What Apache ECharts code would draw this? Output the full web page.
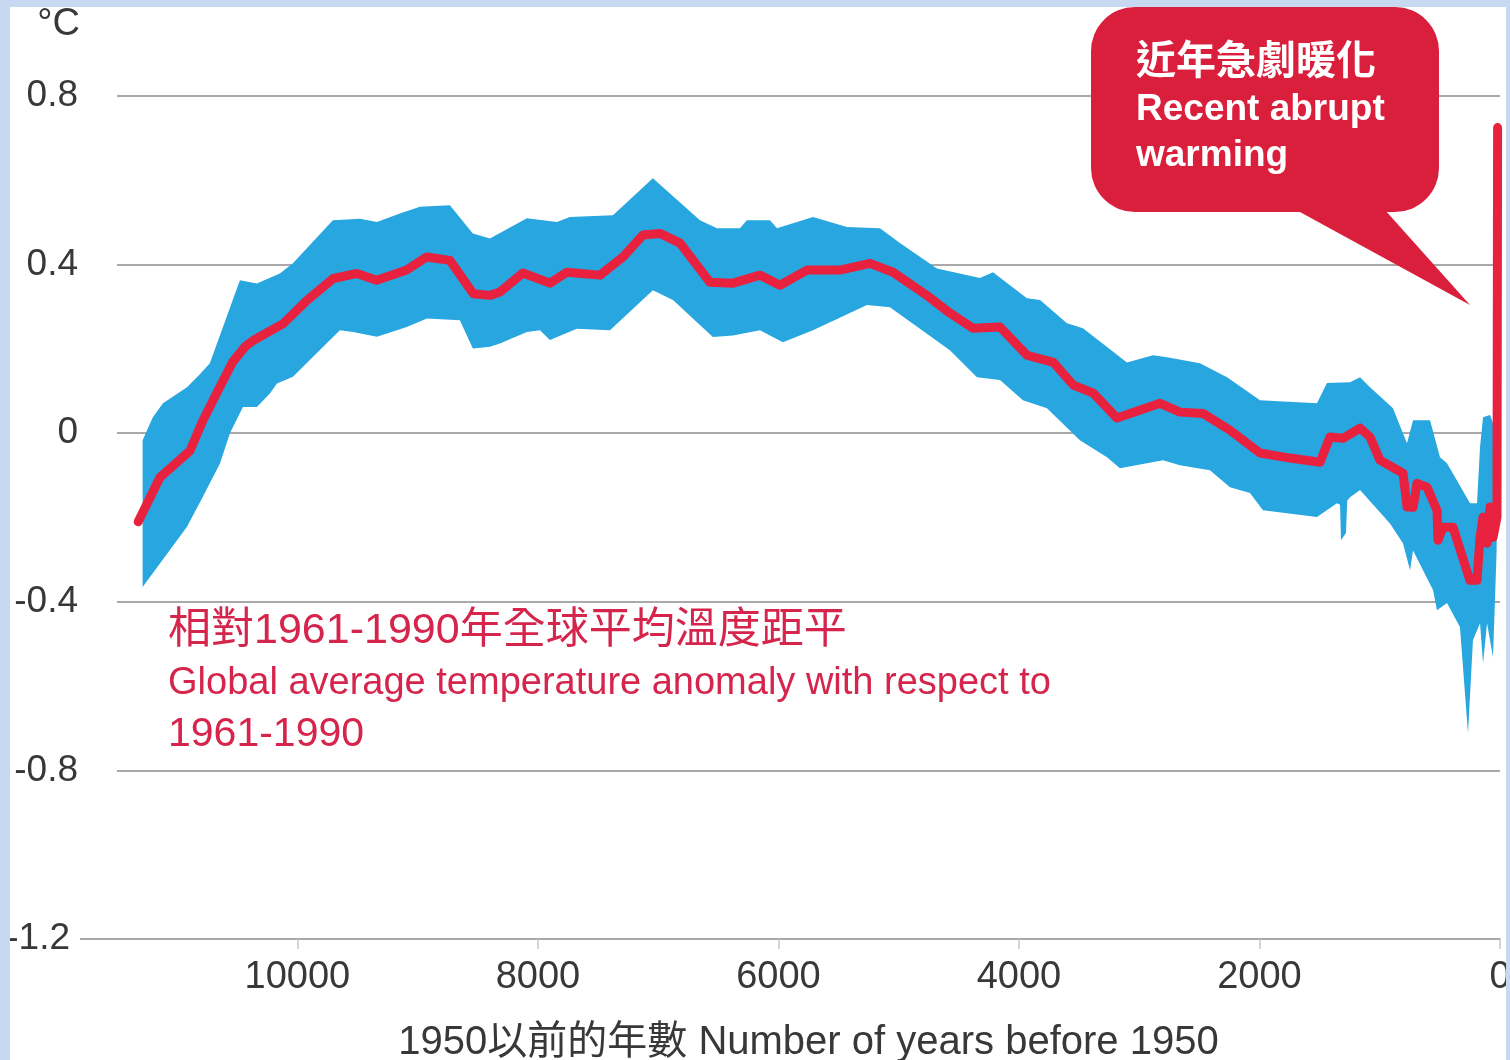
<!DOCTYPE html>
<html>
<head>
<meta charset="utf-8">
<script src="https://cdn.jsdelivr.net/npm/echarts@6/dist/echarts.min.js"></script>
<style>
  html, body { margin: 0; padding: 0; background: #ffffff; overflow: hidden; }
  #chart { position: absolute; left: 0; top: 0; width: 1510px; height: 1060px; }
  #frame {
    position: absolute; left: 0; top: 0; width: 1510px; height: 1060px;
    box-sizing: border-box; border-style: solid; border-color: #c6d9f1;
    border-width: 7px 4px 0 10px; pointer-events: none;
  }
</style>
</head>
<body>
<div id="chart"></div>
<div id="frame"></div>
<script>
// Axis ticks
const yearTicks = [0, 2000, 4000, 6000, 8000, 10000];
const tempMin = -1.2;
const tempMax = 0.8;
const tempStep = 0.4;

// Reconstructed global mean temperature anomaly (°C vs 1961-1990), years before 1950
const meanYears = [11324, 11143, 10894, 10786, 10644, 10536, 10436, 10368, 10118, 9917,
  9702, 9505, 9341, 9092, 8926, 8732, 8538, 8399, 8316, 8125,
  7900, 7760, 7484, 7293, 7127, 6985, 6819, 6570, 6378, 6154,
  5988, 5763, 5489, 5239, 5047, 4766, 4574, 4382, 4158, 3934,
  3714, 3548, 3382, 3185, 2827, 2661, 2470, 2245, 1996, 1746,
  1497, 1414, 1306, 1164, 1081, 998, 806, 773, 723, 690,
  607, 524, 515, 474, 391, 250, 191, 166, 141, 108,
  83, 58, 25, 20];
const meanTemp = [-0.21, -0.105, -0.042, 0.03, 0.11, 0.17, 0.205, 0.22, 0.26, 0.316,
  0.367, 0.379, 0.363, 0.387, 0.418, 0.41, 0.331, 0.327, 0.335, 0.38,
  0.356, 0.382, 0.375, 0.418, 0.47, 0.474, 0.451, 0.358, 0.356, 0.375,
  0.351, 0.387, 0.387, 0.403, 0.382, 0.327, 0.285, 0.249, 0.252, 0.185,
  0.168, 0.114, 0.095, 0.036, 0.071, 0.05, 0.047, 0.007, -0.047, -0.059,
  -0.069, -0.009, -0.012, 0.012, -0.009, -0.064, -0.095, -0.175, -0.176, -0.119,
  -0.128, -0.183, -0.254, -0.223, -0.223, -0.349, -0.349, -0.247, -0.199, -0.261,
  -0.175, -0.247, -0.199, 0.725];

// Uncertainty envelope, upper edge
const upperYears = [11287, 11202, 11118, 10918, 10811, 10728, 10478, 10337, 10146, 10037,
  9705, 9480, 9339, 9148, 8981, 8732, 8541, 8399, 8092, 7842,
  7734, 7376, 7044, 6653, 6511, 6320, 6262, 6071, 6012, 5713,
  5430, 5156, 4990, 4682, 4324, 4216, 3934, 3825, 3601, 3468,
  3102, 2886, 2769, 2495, 2270, 2079, 1996, 1522, 1439, 1247,
  1164, 1081, 890, 807, 773, 723, 582, 499, 441, 249,
  191, 166, 141, 83, 28];
const upperTemp = [-0.017, 0.038, 0.071, 0.109, 0.14, 0.166, 0.363, 0.355, 0.379, 0.403,
  0.505, 0.509, 0.501, 0.521, 0.537, 0.541, 0.474, 0.462, 0.51, 0.501,
  0.513, 0.517, 0.605, 0.505, 0.486, 0.486, 0.505, 0.505, 0.486, 0.513,
  0.489, 0.486, 0.451, 0.391, 0.368, 0.382, 0.32, 0.316, 0.261, 0.249,
  0.168, 0.185, 0.18, 0.166, 0.133, 0.095, 0.078, 0.071, 0.119, 0.121,
  0.133, 0.109, 0.059, 0.0, -0.024, 0.031, 0.031, -0.057, -0.071, -0.166,
  -0.166, -0.033, 0.038, 0.043, 0.0];

// Uncertainty envelope, lower edge
const lowerYears = [11287, 10918, 10786, 10644, 10561, 10453, 10337, 10229, 10170, 10037,
  9647, 9536, 9339, 9090, 8923, 8649, 8541, 8399, 8316, 8092,
  7983, 7900, 7676, 7401, 7044, 6877, 6545, 6378, 6154, 5963,
  5713, 5264, 5073, 4574, 4349, 4158, 3967, 3767, 3493, 3268,
  3160, 2803, 2661, 2412, 2245, 2079, 1971, 1522, 1356, 1330,
  1322, 1281, 1270, 1247, 1164, 915, 807, 748, 723, 557,
  524, 441, 333, 266, 225, 166, 141, 108, 58, 28];
const lowerTemp = [-0.365, -0.222, -0.151, -0.072, 0.0, 0.062, 0.062, 0.094, 0.118, 0.134,
  0.244, 0.24, 0.229, 0.252, 0.272, 0.268, 0.201, 0.205, 0.213, 0.24,
  0.244, 0.221, 0.248, 0.244, 0.339, 0.316, 0.228, 0.232, 0.244, 0.216,
  0.244, 0.304, 0.299, 0.197, 0.133, 0.126, 0.078, 0.059, -0.017, -0.057,
  -0.083, -0.064, -0.076, -0.088, -0.128, -0.142, -0.183, -0.199, -0.166, -0.17,
  -0.254, -0.237, -0.16, -0.152, -0.135, -0.214, -0.261, -0.325, -0.278, -0.372,
  -0.42, -0.403, -0.46, -0.712, -0.491, -0.451, -0.546, -0.451, -0.531, -0.278];

const BAND = '#28a6df';
const LINE = '#e8213f';
const CALLOUT = '#da1f3d';
const NOTE = '#d6254c';
const GRID = '#a9a9a9';
const TEXT = '#383838';
const FONT = '"Liberation Sans", "Noto Sans CJK TC", sans-serif';

const chart = echarts.init(document.getElementById('chart'), null, { renderer: 'canvas' });

chart.setOption({
  backgroundColor: '#ffffff',
  animation: false,
  grid: { left: 117, top: 96, width: 1383, height: 843, outerBoundsMode: 'none', containLabel: false },
  xAxis: {
    type: 'value',
    inverse: true,
    min: 0,
    max: 11500,
    interval: 2000,
    name: '1950以前的年數 Number of years before 1950',
    nameLocation: 'middle',
    nameGap: 84,
    nameTextStyle: { fontSize: 40, color: TEXT, fontFamily: FONT, verticalAlign: 'top' },
    axisLine: { show: true, onZero: false, lineStyle: { color: GRID, width: 2 } },
    axisTick: { show: true, length: 10, customValues: yearTicks, lineStyle: { color: '#c8c8c8', width: 1.5 } },
    axisLabel: {
      customValues: yearTicks, fontSize: 38, color: TEXT, fontFamily: FONT, margin: 20,
      formatter: v => String(v)
    },
    splitLine: { show: false }
  },
  yAxis: {
    type: 'value',
    min: tempMin,
    max: tempMax,
    interval: tempStep,
    name: '°C',
    nameLocation: 'end',
    nameGap: 52,
    nameTextStyle: { fontSize: 38, color: TEXT, fontFamily: FONT, align: 'right', padding: [0, 37, 0, 0] },
    axisLine: { show: false, onZero: false },
    axisTick: { show: false },
    axisLabel: {
      fontSize: 37, color: TEXT, fontFamily: FONT, margin: 39,
      formatter: v => {
        const s = String(Math.round(v * 10) / 10);
        return v < -1 ? '{low|' + s + '}' : s;
      },
      rich: { low: { fontSize: 37, color: TEXT, fontFamily: FONT, padding: [0, 8, 0, 0] } }
    },
    splitLine: { show: true, lineStyle: { color: GRID, width: 2 } }
  },
  series: [
    {
      name: 'range',
      type: 'custom',
      silent: true,
      z: 2,
      data: [[0, 0]],
      renderItem: (params, api) => {
        const top = upperYears.map((yr, i) => api.coord([yr, upperTemp[i]]));
        const bottom = lowerYears.map((yr, i) => api.coord([yr, lowerTemp[i]])).reverse();
        return {
          type: 'polygon',
          shape: { points: top.concat(bottom) },
          style: { fill: BAND }
        };
      }
    },
    {
      name: 'mean',
      type: 'line',
      z: 3,
      showSymbol: false,
      silent: true,
      data: meanYears.map((yr, i) => [yr, meanTemp[i]]),
      lineStyle: { color: LINE, width: 9, join: 'round', cap: 'round' }
    }
  ],
  graphic: [
    // short left extension of the baseline
    { type: 'line', z: 1, shape: { x1: 80, y1: 939, x2: 117, y2: 939 }, style: { stroke: GRID, lineWidth: 2 } },
    // callout bubble
    { type: 'rect', z: 10, shape: { x: 1091, y: 7, width: 348, height: 205, r: 44 }, style: { fill: CALLOUT } },
    { type: 'polygon', z: 10, shape: { points: [[1278, 200], [1376, 200], [1470, 305]] }, style: { fill: CALLOUT } },
    { type: 'text', z: 11, x: 1136, y: 63, style: { text: '近年急劇暖化', fill: '#ffffff', font: 'bold 40px ' + FONT, verticalAlign: 'middle' } },
    { type: 'text', z: 11, x: 1136, y: 110, style: { text: 'Recent abrupt', fill: '#ffffff', font: 'bold 37px ' + FONT, verticalAlign: 'middle' } },
    { type: 'text', z: 11, x: 1136, y: 156, style: { text: 'warming', fill: '#ffffff', font: 'bold 37px ' + FONT, verticalAlign: 'middle' } },
    // series description
    { type: 'text', z: 11, x: 168, y: 631, style: { text: '相對1961-1990年全球平均溫度距平', fill: NOTE, font: '43px ' + FONT, verticalAlign: 'middle' } },
    { type: 'text', z: 11, x: 168, y: 684, style: { text: 'Global average temperature anomaly with respect to', fill: NOTE, font: '38px ' + FONT, verticalAlign: 'middle' } },
    { type: 'text', z: 11, x: 168, y: 735, style: { text: '1961-1990', fill: NOTE, font: '41px ' + FONT, verticalAlign: 'middle' } }
  ]
});
</script>
</body>
</html>
